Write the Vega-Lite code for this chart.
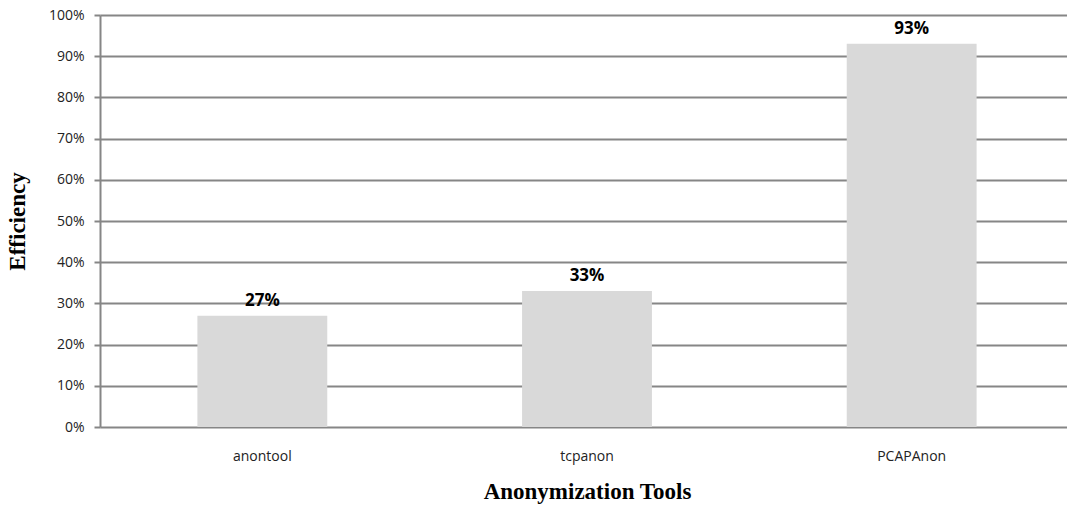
{
  "$schema": "https://vega.github.io/schema/vega-lite/v6.json",
  "width": 967,
  "height": 412,
  "autosize": {"type": "none"},
  "padding": {"left": 100, "top": 15, "right": 0, "bottom": 79},
  "background": "white",
  "config": {"view": {"stroke": null}},
  "data": {
    "values": [
      {"tool": "anontool", "efficiency": 0.27},
      {"tool": "tcpanon", "efficiency": 0.33},
      {"tool": "PCAPAnon", "efficiency": 0.93}
    ]
  },
  "encoding": {
    "x": {
      "field": "tool",
      "type": "nominal",
      "sort": null,
      "scale": {"paddingInner": 0, "paddingOuter": 0, "range": [0, 974]},
      "axis": {
        "title": "Anonymization Tools",
        "titleFont": "Liberation Serif",
        "titleFontSize": 23,
        "titleFontWeight": "bold",
        "titleColor": "black",
        "titlePadding": 17,
        "titleX": 487,
        "labelFont": "Open Sans",
        "labelFontSize": 14,
        "labelColor": "#222",
        "labelAngle": 0,
        "labelPadding": 22,
        "ticks": false,
        "domain": false,
        "grid": false
      }
    },
    "y": {
      "field": "efficiency",
      "type": "quantitative",
      "scale": {"domain": [0, 1], "nice": false},
      "axis": {
        "title": "Efficiency",
        "titleFont": "Liberation Serif",
        "titleFontSize": 23,
        "titleFontWeight": "bold",
        "titleColor": "black",
        "titlePadding": 19,
        "format": ".0%",
        "values": [0, 0.1, 0.2, 0.3, 0.4, 0.5, 0.6, 0.7, 0.8, 0.9, 1],
        "labelFont": "Open Sans",
        "labelFontSize": 14,
        "labelColor": "#222",
        "labelPadding": 10,
        "tickSize": 6,
        "tickColor": "#868686",
        "tickWidth": 2,
        "domainColor": "#868686",
        "domainWidth": 2,
        "grid": true,
        "gridColor": "#868686",
        "gridWidth": 2,
        "gridOpacity": 1
      }
    }
  },
  "layer": [
    {
      "mark": {"type": "bar", "color": "#d9d9d9", "width": {"band": 0.4}}
    },
    {
      "mark": {
        "type": "text",
        "dy": -15,
        "font": "Open Sans",
        "fontSize": 17,
        "fontWeight": "bold",
        "color": "black"
      },
      "encoding": {
        "text": {"field": "efficiency", "type": "quantitative", "format": ".0%"}
      }
    }
  ]
}
